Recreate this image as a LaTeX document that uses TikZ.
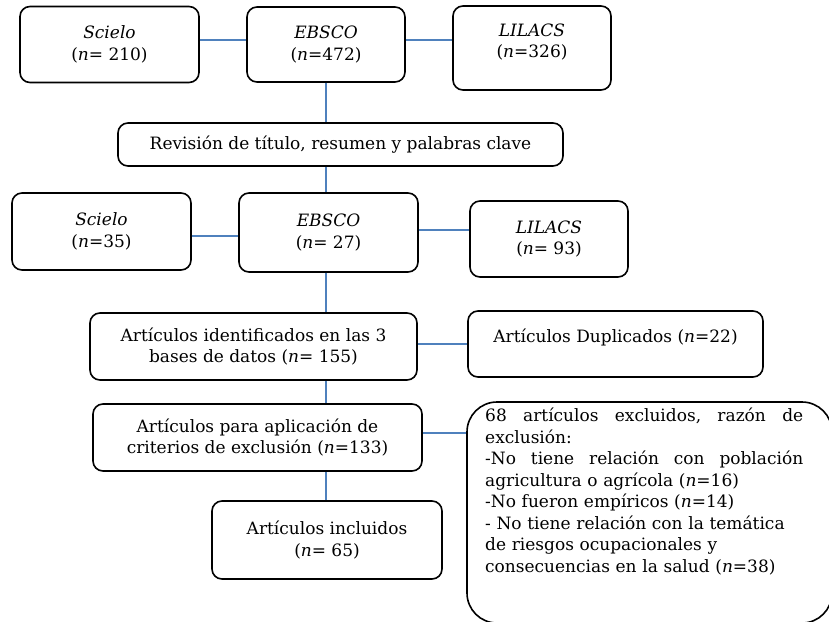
\documentclass[tikz,border=0pt]{standalone}
\usepackage{fontspec}
\setmainfont{DejaVu Serif}
\definecolor{linkblue}{RGB}{79,129,189}
\newcommand\diagfont{\fontsize{17}{21.5}\selectfont}
\begin{document}
\begin{tikzpicture}[x=1pt,y=-1pt,
  box/.style={draw=black, line width=1.6pt, rounded corners=10pt, align=center, inner sep=0pt, font=\diagfont},
  link/.style={draw=linkblue, line width=1.3pt},
  txt/.style={align=center, inner sep=0pt, font=\diagfont}]
\useasboundingbox (0,0) rectangle (829,621);
\clip (0,0) rectangle (829,621);

% top row
\node[box, minimum width=179pt, minimum height=76pt] (sci1) at (109.5,44.5) {\textit{Scielo}\\(\textit{n}= 210)};
\node[box, minimum width=158pt, minimum height=75pt] (ebs1) at (326,44.5) {\textit{EBSCO}\\(\textit{n}=472)};
\node[box, minimum width=158pt, minimum height=84pt] (lil1) at (532,48) {};
\node[txt] (lil1t) at (532,42) {\textit{LILACS}\\(\textit{n}=326)};

\node[box, minimum width=445pt, minimum height=43pt] (rev) at (340.5,144.5) {Revisión de título, resumen y palabras clave};

% second row
\node[box, minimum width=179pt, minimum height=77pt] (sci2) at (101.5,231.5) {\textit{Scielo}\\(\textit{n}=35)};
\node[box, minimum width=179pt, minimum height=79pt] (ebs2) at (328.5,232.5) {\textit{EBSCO}\\(\textit{n}= 27)};
\node[box, minimum width=158pt, minimum height=76pt] (lil2) at (549,239) {\textit{LILACS}\\(\textit{n}= 93)};

\node[box, minimum width=327pt, minimum height=67pt] (ide) at (253.5,346.5) {Artículos identificados en las 3\\bases de datos (\textit{n}= 155)};
\node[box, minimum width=295pt, minimum height=66pt] (dup) at (615.5,344) {};
\node[txt] (dupt) at (615.5,337) {Artículos Duplicados (\textit{n}=22)};

\node[box, minimum width=329pt, minimum height=67pt] (apl) at (257.5,437.5) {Artículos para aplicación de\\criterios de exclusión (\textit{n}=133)};
\node[box, minimum width=230pt, minimum height=78pt] (inc) at (327,540) {Artículos incluidos\\(\textit{n}= 65)};

\node[draw=black, line width=1.6pt, rounded corners=30pt, minimum width=365pt, minimum height=221pt, inner sep=0pt] (exc) at (649.5,512.5) {};
\node[txt, align=left, anchor=north west, text width=320pt] (exct) at (485,408) {%
\makebox[318pt][l]{68\hfill artículos\hfill excluidos,\hfill razón\hfill de}\\
exclusión:\\
\makebox[318pt][l]{-No\hfill tiene\hfill relación\hfill con\hfill población}\\
agricultura o agrícola (\textit{n}=16)\\
-No fueron empíricos (\textit{n}=14)\\
- No tiene relación con la temática\\
de riesgos ocupacionales y\\
consecuencias en la salud (\textit{n}=38)};

% connectors
\draw[link] ([yshift=4.5pt]sci1.east) -- ([yshift=4.5pt]sci1.east -| ebs1.west);
\draw[link] ([yshift=4.5pt]ebs1.east) -- ([yshift=4.5pt]ebs1.east -| lil1.west);
\draw[link] (ebs1.south) -- (ebs1.south |- rev.north);
\draw[link] (ebs1.south |- rev.south) -- (ebs1.south |- ebs2.north);
\draw[link] ([yshift=-4.5pt]sci2.east) -- ([yshift=-4.5pt]sci2.east -| ebs2.west);
\draw[link] ([yshift=2.5pt]ebs2.east) -- ([yshift=2.5pt]ebs2.east -| lil2.west);
\draw[link] (ebs1.south |- ebs2.south) -- (ebs1.south |- ide.north);
\draw[link] ([yshift=2.5pt]ide.east) -- ([yshift=2.5pt]ide.east -| dup.west);
\draw[link] (ebs1.south |- ide.south) -- (ebs1.south |- apl.north);
\draw[link] ([yshift=4.5pt]apl.east) -- ([yshift=4.5pt]apl.east -| exc.west);
\draw[link] (ebs1.south |- apl.south) -- (ebs1.south |- inc.north);
\end{tikzpicture}
\end{document}
